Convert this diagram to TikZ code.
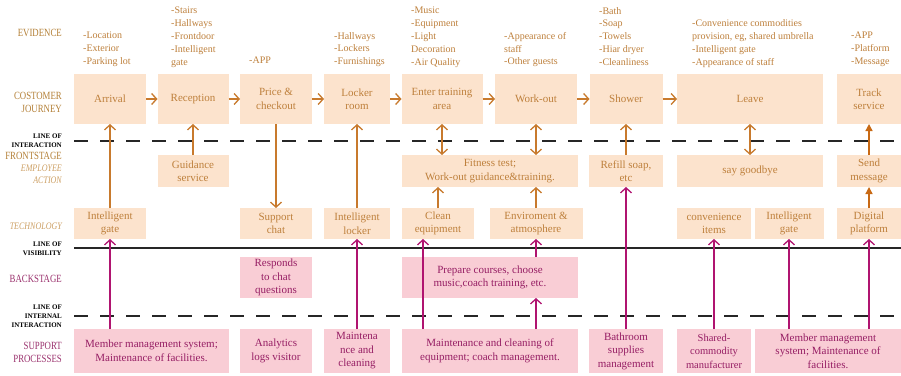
\documentclass[tikz,border=0pt]{standalone}
\usepackage{fontspec}
\setmainfont{Liberation Serif}
\newfontfamily\condfont[FakeStretch=0.8]{Liberation Serif}
\usetikzlibrary{arrows.meta,calc}
\definecolor{peach}{RGB}{252,227,205}
\definecolor{pinkf}{RGB}{249,205,213}
\definecolor{otext}{RGB}{190,128,60}
\definecolor{ptext}{RGB}{150,30,100}
\definecolor{oarrc}{RGB}{200,122,45}
\definecolor{darrc}{RGB}{200,105,20}
\definecolor{parrc}{RGB}{176,20,112}
\definecolor{labo}{RGB}{180,128,55}
\definecolor{labl}{RGB}{205,160,100}
\definecolor{labp}{RGB}{155,50,110}
\tikzset{
  jbox/.style={fill=peach,text=otext,inner sep=0pt,outer sep=0pt,align=center,font=\fontsize{11}{13.5}\selectfont},
  pbox/.style={fill=pinkf,text=ptext,inner sep=0pt,outer sep=0pt,align=center,font=\fontsize{11}{13.5}\selectfont},
  hA/.style={minimum height=50pt},
  hB/.style={minimum height=32pt},
  hC/.style={minimum height=31pt},
  hD/.style={minimum height=41pt},
  hE/.style={minimum height=44pt},
  evid/.style={anchor=north west,text=otext,align=left,inner sep=0pt,font=\fontsize{10}{12.8}\selectfont},
  oarr/.style={draw=oarrc,line width=1.3pt,-{Straight Barb[length=5pt,width=11pt]}},
  odbl/.style={draw=oarrc,line width=1.3pt,{Straight Barb[length=5pt,width=11pt]}-{Straight Barb[length=5pt,width=11pt]}},
  darr/.style={draw=darrc,line width=1.3pt,-{Triangle[length=7pt,width=7pt]}},
  parr/.style={draw=parrc,line width=1.3pt,-{Straight Barb[length=5pt,width=11pt]}},
  dline/.style={draw=black!85,line width=1.4pt,dash pattern=on 14pt off 12pt},
  sline/.style={draw=black!85,line width=1.5pt},
  lab/.style={anchor=east,align=right,inner sep=0pt,font=\condfont\fontsize{11}{13}\selectfont},
  labi/.style={anchor=east,align=right,inner sep=0pt,text=labl,font=\condfont\itshape\fontsize{10}{12}\selectfont},
  labk/.style={anchor=east,align=right,inner sep=0pt,text=black,font=\bfseries\fontsize{7}{9}\selectfont},
}
\begin{document}
\begin{tikzpicture}[x=1pt,y=-1pt]
\path[use as bounding box,fill=white] (0,0) rectangle (901,375);

% ---------- left labels
\node[lab,text=labo] (lEv) at (62,33) {EVIDENCE};
\node[lab,text=labo] (lCj) at (62,102.5) {COSTOMER\\JOURNEY};
\node[labk] (lLi) at (62,140.5) {LINE OF\\INTERACTION};
\node[lab,text=labo] (lFs) at (62,155.5) {FRONTSTAGE};
\node[labi] (lEa) at (62,174) {EMPLOYEE\\ACTION};
\node[labi] (lTe) at (62,226) {TECHNOLOGY};
\node[labk] (lLv) at (62,248.5) {LINE OF\\VISIBILITY};
\node[lab,text=labp] (lBs) at (62,279) {BACKSTAGE};
\node[labk] (lLn) at (62,316) {LINE OF\\INTERNAL\\INTERACTION};
\node[lab,text=labp] (lSp) at (62,352) {SUPPORT\\PROCESSES};

% ---------- separator lines
\coordinate (i1a) at (74,141);  \coordinate (i1b) at (901,141);
\coordinate (v1a) at (74,248);  \coordinate (v1b) at (901,248);
\coordinate (n1a) at (74,316);  \coordinate (n1b) at (901,316);
\draw[dline] (i1a) -- (i1b);
\draw[sline] (v1a) -- (v1b);
\draw[dline] (n1a) -- (n1b);

% ---------- evidence
\node[evid] (e1) at (83,32) {-Location\\-Exterior\\-Parking lot};
\node[evid] (e2) at (171,7) {-Stairs\\-Hallways\\-Frontdoor\\-Intelligent\\gate};
\node[evid] (e3) at (249,57) {-APP};
\node[evid] (e4) at (334,32) {-Hallways\\-Lockers\\-Furnishings};
\node[evid] (e5) at (411,7) {-Music\\-Equipment\\-Light\\Decoration\\-Air Quality};
\node[evid] (e6) at (504,32) {-Appearance of\\staff\\-Other guests};
\node[evid] (e7) at (599,7) {-Bath\\-Soap\\-Towels\\-Hiar dryer\\-Cleanliness};
\node[evid] (e8) at (692,19.5) {-Convenience commodities\\provision, eg, shared umbrella\\-Intelligent gate\\-Appearance of staff};
\node[evid] (e9) at (851,32) {-APP\\-Platform\\-Message};

% ---------- customer journey
\node[jbox,hA,minimum width=72pt] (arr) at (110,99) {Arrival};
\node[jbox,hA,minimum width=71pt] (rec) at (193,99) {Reception};
\node[jbox,hA,minimum width=72pt] (pri) at (276,99) {Price \&\\checkout};
\node[jbox,hA,minimum width=66pt] (loc) at (357,99) {Locker\\room};
\node[jbox,hA,minimum width=81pt] (ent) at (442,99) {Enter training\\area};
\node[jbox,hA,minimum width=82pt] (wrk) at (536,99) {Work-out};
\node[jbox,hA,minimum width=73pt] (sho) at (626,99) {Shower};
\node[jbox,hA,minimum width=146pt] (lea) at (750,99) {Leave};
\node[jbox,hA,minimum width=64pt] (trk) at (869,99) {Track\\service};

% ---------- frontstage
\node[jbox,hB,minimum width=71pt] (gui) at (193,171) {Guidance\\service};
\node[jbox,hB,minimum width=176pt] (fit) at (490,171) {Fitness test;\\Work-out guidance\&training.};
\node[jbox,hB,minimum width=74pt] (ref) at (626,171) {Refill soap,\\etc};
\node[jbox,hB,minimum width=146pt] (bye) at (750,171) {say goodbye};
\node[jbox,hB,minimum width=64pt] (snd) at (869,171) {Send\\message};

% ---------- technology
\node[jbox,hC,minimum width=72pt] (tg1) at (110,223.5) {Intelligent\\gate};
\node[jbox,hC,minimum width=72pt] (sup) at (276,223.5) {Support\\chat};
\node[jbox,hC,minimum width=66pt] (tlk) at (357,223.5) {Intelligent\\locker};
\node[jbox,hC,minimum width=72pt] (cln) at (438,223.5) {Clean\\equipment};
\node[jbox,hC,minimum width=93pt] (env) at (536,223.5) {Enviroment \&\\atmosphere};
\node[jbox,hC,minimum width=74pt] (cnv) at (714,223.5) {convenience\\items};
\node[jbox,hC,minimum width=69pt] (tg2) at (789,223.5) {Intelligent\\gate};
\node[jbox,hC,minimum width=64pt] (dig) at (869,223.5) {Digital\\platform};

% ---------- backstage
\node[pbox,hD,minimum width=72pt] (rsp) at (276,277.5) {Responds\\to chat\\questions};
\node[pbox,hD,minimum width=176pt] (prp) at (490,277.5) {Prepare courses, choose\\music,coach training, etc.};

% ---------- support processes
\node[pbox,hE,minimum width=155pt] (mm1) at (151.5,351) {Member management system;\\Maintenance of facilities.};
\node[pbox,hE,minimum width=72pt] (ana) at (276,351) {Analytics\\logs visitor};
\node[pbox,hE,minimum width=66pt] (mnt) at (357,351) {Maintena\\nce and\\cleaning};
\node[pbox,hE,minimum width=176pt] (meq) at (490,351) {Maintenance and cleaning of\\equipment; coach management.};
\node[pbox,hE,minimum width=74pt] (bth) at (626,351) {Bathroom\\supplies\\management};
\node[pbox,hE,minimum width=74pt,font=\fontsize{10.5}{13.5}\selectfont] (shr) at (714,351) {Shared-\\commodity\\manufacturer};
\node[pbox,hE,minimum width=146pt] (mm2) at (828,351) {Member management\\system; Maintenance of\\facilities.};

% ---------- orange arrows
\draw[oarr] (arr.east) -- (rec.west);
\draw[oarr] (rec.east) -- (pri.west);
\draw[oarr] (pri.east) -- (loc.west);
\draw[oarr] (loc.east) -- (ent.west);
\draw[oarr] (ent.east) -- (wrk.west);
\draw[oarr] (wrk.east) -- (sho.west);
\draw[oarr] (sho.east) -- (lea.west);
\draw[oarr] (tg1.north) -- (arr.south);
\draw[oarr] (gui.north) -- (rec.south);
\draw[oarr] (pri.south) -- (sup.north);
\draw[oarr] (tlk.north) -- (loc.south);
\draw[odbl] (ent.south) -- (ent.south |- fit.north);
\draw[oarr] (cln.north) -- (cln.north |- fit.south);
\draw[odbl] (wrk.south) -- (wrk.south |- fit.north);
\draw[oarr] (env.north) -- (env.north |- fit.south);
\draw[oarr] (ref.north) -- (ref.north |- sho.south);
\draw[odbl] (lea.south) -- (bye.north);
\draw[darr] (snd.north) -- (trk.south);
\draw[darr] (dig.north) -- (snd.south);

% ---------- magenta arrows
\draw[parr] (mm1.north -| tg1.south) -- (tg1.south);
\draw[parr] (mnt.north) -- (tlk.south);
\draw[parr] ($(meq.north west)+(21,0)$) -- ($(cln.south west)+(21,0)$);
\draw[parr] (meq.north -| env.south) -- (prp.south -| env.south);
\draw[parr] (prp.north -| env.south) -- (env.south);
\draw[parr] (bth.north) -- (ref.south);
\draw[parr] (shr.north) -- (cnv.south);
\draw[parr] (mm2.north -| tg2.south) -- (tg2.south);
\draw[parr] (mm2.north -| dig.south) -- (dig.south);
\end{tikzpicture}
\end{document}
